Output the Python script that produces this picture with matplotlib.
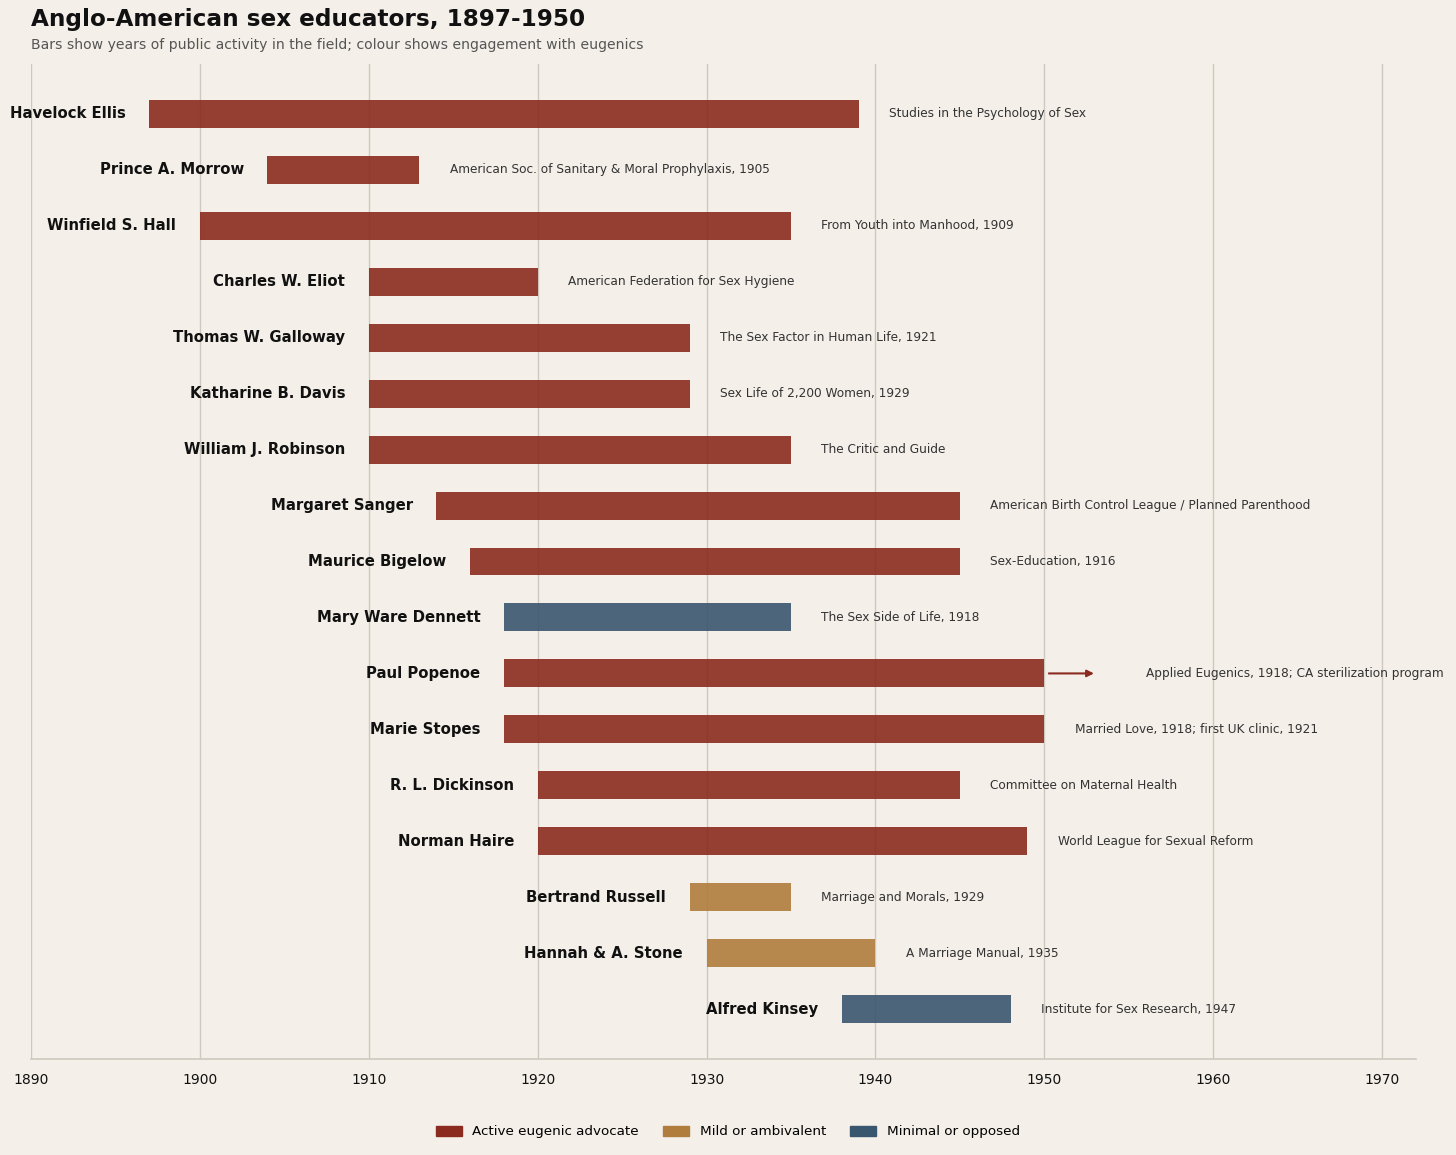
import matplotlib.pyplot as plt
from matplotlib.patches import Patch

# data
names = ['Havelock Ellis', 'Prince A. Morrow', 'Winfield S. Hall', 'Charles W. Eliot',
         'Thomas W. Galloway', 'Katharine B. Davis', 'William J. Robinson', 'Margaret Sanger',
         'Maurice Bigelow', 'Mary Ware Dennett', 'Paul Popenoe', 'Marie Stopes',
         'R. L. Dickinson', 'Norman Haire', 'Bertrand Russell', 'Hannah & A. Stone',
         'Alfred Kinsey']
starts = [1897, 1904, 1900, 1910, 1910, 1910, 1910, 1914, 1916, 1918, 1918, 1918,
          1920, 1920, 1929, 1930, 1938]
ends = [1939, 1913, 1935, 1920, 1929, 1929, 1935, 1945, 1945, 1935, 1950, 1950,
        1945, 1949, 1935, 1940, 1948]
stance = ['active', 'active', 'active', 'active', 'active', 'active', 'active', 'active',
          'active', 'minimal', 'active', 'active', 'active', 'active', 'mild', 'mild',
          'minimal']
notes = ['Studies in the Psychology of Sex',
         'American Soc. of Sanitary & Moral Prophylaxis, 1905',
         'From Youth into Manhood, 1909',
         'American Federation for Sex Hygiene',
         'The Sex Factor in Human Life, 1921',
         'Sex Life of 2,200 Women, 1929',
         'The Critic and Guide',
         'American Birth Control League / Planned Parenthood',
         'Sex-Education, 1916',
         'The Sex Side of Life, 1918',
         'Applied Eugenics, 1918; CA sterilization program',
         'Married Love, 1918; first UK clinic, 1921',
         'Committee on Maternal Health',
         'World League for Sexual Reform',
         'Marriage and Morals, 1929',
         'A Marriage Manual, 1935',
         'Institute for Sex Research, 1947']
continues = ['Paul Popenoe']

colors = {'active': '#8B2A1E', 'mild': '#B07D3C', 'minimal': '#3A566E'}
legend_labels = {'active': 'Active eugenic advocate', 'mild': 'Mild or ambivalent',
                 'minimal': 'Minimal or opposed'}

bg = '#F4F0E9'
grid_c = '#CFC8BE'

fig = plt.figure(figsize=(14.56, 11.55), dpi=100, facecolor=bg)
ax = fig.add_axes([0.0213, 0.0831, 0.9512, 0.8615], facecolor=bg)

for i, n in enumerate(names):
    c = colors[stance[i]]
    ax.barh(i, ends[i] - starts[i], left=starts[i], height=0.5, color=c, alpha=0.9,
            zorder=3)
    ax.text(starts[i] - 1.4, i, n, ha='right', va='center', fontsize=10.7,
            fontweight='bold', color='#111111', zorder=4)
    tx = ends[i] + 1.8
    if n in continues:
        # still active past the end of the period shown
        ax.annotate('', xy=(ends[i] + 3.1, i), xytext=(ends[i] + 0.1, i),
                    arrowprops=dict(arrowstyle='-|>', color=c, lw=1.5,
                                    mutation_scale=10), zorder=4)
        tx = ends[i] + 6.0
    ax.text(tx, i, notes[i], ha='left', va='center', fontsize=8.7, color='#333333',
            zorder=4)

ax.set_xlim(1890, 1972)
ax.set_ylim(len(names) - 1 + 0.89, -0.89)
ax.set_xticks(range(1890, 1971, 10))
ax.set_yticks([])
ax.tick_params(axis='x', length=0, labelsize=10, pad=10, colors='#111111')
ax.grid(axis='x', color=grid_c, lw=1, zorder=0)
for s in ['top', 'right', 'left']:
    ax.spines[s].set_visible(False)
ax.spines['bottom'].set_color(grid_c)
ax.spines['bottom'].set_linewidth(1.2)

fig.text(0.0213, 0.9827, 'Anglo-American sex educators, 1897-1950', fontsize=16.65,
         fontweight='bold', color='#111111', va='center')
fig.text(0.0213, 0.961, 'Bars show years of public activity in the field; colour shows engagement with eugenics',
         fontsize=10.1, color='#555555', va='center')

handles = [Patch(facecolor=colors[k], edgecolor=colors[k], label=legend_labels[k])
           for k in ['active', 'mild', 'minimal']]
fig.legend(handles=handles, loc='center', bbox_to_anchor=(0.5, 0.02), ncol=3,
           frameon=False, fontsize=9.7, handlelength=1.9, handleheight=0.75,
           columnspacing=1.8)

fig.savefig('out.png', dpi=100, facecolor=bg)
